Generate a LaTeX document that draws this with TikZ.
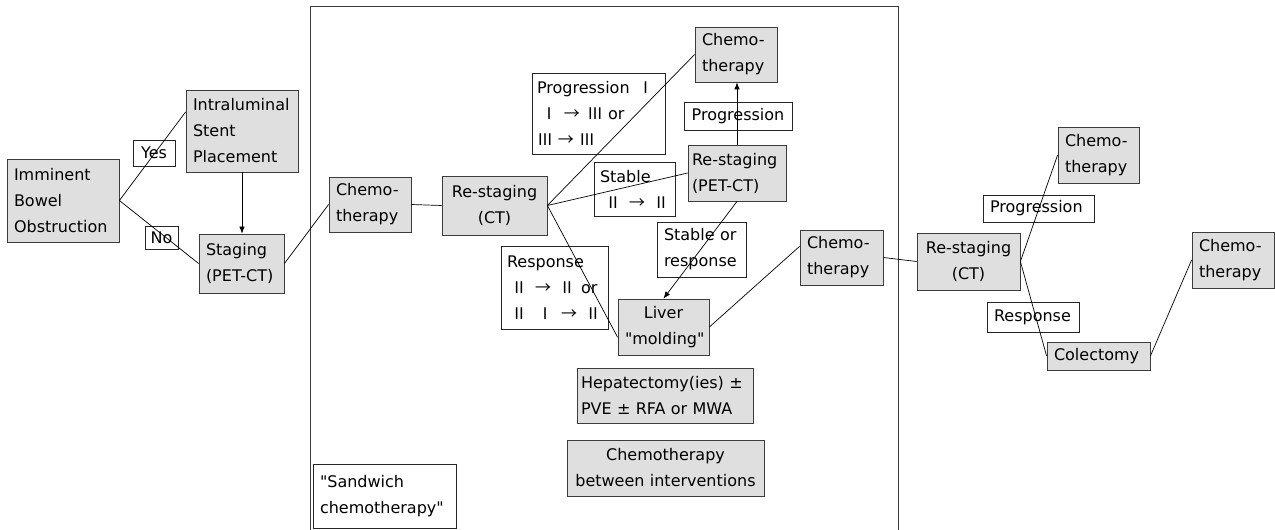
\documentclass[tikz,border=0pt]{standalone}
\usepackage{fontspec}
\setmainfont[Ligatures=TeXOff]{DejaVu Sans}
\newfontfamily\cjk{Noto Sans CJK SC}
\usetikzlibrary{arrows.meta,calc}
\definecolor{boxgray}{RGB}{223,223,223}
\definecolor{edgegray}{RGB}{60,60,60}
\newcommand{\Rn}[1]{{\cjk #1}}
\newcommand{\gapx}[1]{\hspace*{#1pt}}
\begin{document}
\begin{tikzpicture}[x=1pt,y=-1pt,
  every node/.style={font=\fontsize{16}{26}\selectfont},
  gbox/.style 2 args={draw=edgegray, fill=boxgray, line width=0.8pt, inner xsep=7pt, inner ysep=0pt, text width=#1, minimum height=#2},
  lab/.style 2 args={draw=black!85, fill=none, line width=0.8pt, inner xsep=7pt, inner ysep=0pt, text width=#1, minimum height=#2},
  conn/.style={line width=0.7pt, black},
  arr/.style={conn, -{Latex[length=7pt,width=5.5pt]}}]
\useasboundingbox (0,0) rectangle (1275,530);
% sandwich frame
\draw[edgegray, line width=1pt] (310,532) -- (310,6) -- (898,6) -- (898,532);
% grey boxes
\node[gbox={98pt}{83pt}, align=left] (ibo) at (63,200.5) {Imminent\\Bowel\\Obstruction};
\node[gbox={98pt}{82pt}, align=left] (isp) at (242,131) {Intraluminal\\Stent\\Placement};
\node[gbox={71pt}{59pt}, align=left] (stg) at (241.5,263.5) {Staging\\(PET-CT)};
\node[gbox={68pt}{55pt}, align=left] (ch1) at (370,204.5) {Chemo-\\therapy};
\node[gbox={95pt}{59pt}, align=center, inner xsep=5pt] (rs1) at (494.5,205.5) {Re-staging\\(CT)};
\node[gbox={68pt}{55pt}, align=left] (chT) at (736,54.5) {Chemo-\\therapy};
\node[gbox={90pt}{56pt}, align=left, inner xsep=4pt] (rsp) at (737,173) {Re-staging\\(PET-CT)};
\node[gbox={77pt}{56pt}, align=center] (liv) at (663.5,327) {Liver\\"molding"};
\node[gbox={69pt}{55pt}, align=left] (ch2) at (841.5,257.5) {Chemo-\\therapy};
\node[gbox={168pt}{55pt}, align=left, inner xsep=4pt] (hep) at (665,395.5) {Hepatectomy(ies) ±\\PVE ± RFA or MWA};
\node[gbox={189pt}{56pt}, align=center, inner xsep=4pt] (cbi) at (665.5,468) {Chemotherapy\\between interventions};
\node[gbox={93pt}{57pt}, align=center, inner xsep=5pt] (rs2) at (968.5,261.5) {Re-staging\\(CT)};
\node[gbox={67pt}{56pt}, align=left] (ch3) at (1098.5,155) {Chemo-\\therapy};
\node[gbox={89pt}{28pt}, align=left] (col) at (1098.5,356) {Colectomy};
\node[gbox={68pt}{56pt}, align=left] (ch4) at (1233,260) {Chemo-\\therapy};
% white label boxes
\node[lab={32pt}{26pt}, align=center, inner xsep=5pt] (yes) at (154,153) {Yes};
\node[lab={25pt}{23pt}, align=center, inner xsep=4pt] (no) at (161.5,237.5) {No};
\node[lab={123pt}{81pt}, align=left, inner xsep=5pt] (prI) at (598.5,113.5)
  {\mbox{Progression\gapx{8}\Rn{Ⅰ}}\\\mbox{\gapx{4}\Rn{Ⅰ}\gapx{7}\Rn{→}\gapx{7}\Rn{Ⅲ}\gapx{5}or}\\\mbox{\Rn{Ⅲ}\gapx{5}\Rn{→}\gapx{5}\Rn{Ⅲ}}};
\node[lab={96pt}{28pt}, align=center, inner xsep=6pt] (prL) at (738,116) {Progression};
\node[lab={69pt}{54pt}, align=left, inner xsep=6pt] (stb) at (634.5,189)
  {Stable\\\mbox{\gapx{5}\Rn{Ⅱ}\gapx{8}\Rn{→}\gapx{8}\Rn{Ⅱ}}};
\node[lab={75pt}{55pt}, align=left] (sor) at (701.5,249.5) {Stable or\\response};
\node[lab={95pt}{83pt}, align=left, inner xsep=6pt] (rsn) at (554.5,287.5)
  {Response\\\mbox{\gapx{4}\Rn{Ⅱ}\gapx{8}\Rn{→}\gapx{8}\Rn{Ⅱ}\gapx{6}or}\\\mbox{\gapx{4}\Rn{Ⅱ}\gapx{10}\Rn{Ⅰ}\gapx{8}\Rn{→}\gapx{8}\Rn{Ⅱ}}};
\node[lab={129pt}{64pt}, align=left] (snd) at (384.5,496) {"Sandwich\\chemotherapy"};
\node[lab={97pt}{27pt}, align=left] (prR) at (1038.5,208.5) {Progression};
\node[lab={78pt}{30pt}, align=left] (rsR) at (1033,317) {Response};
% connectors
\draw[conn] (ibo.east) -- ($(isp.north west)!0.27!(isp.south west)$);
\draw[conn] (ibo.east) -- (stg.west);
\draw[arr] (isp.south) -- (isp.south |- stg.north);
\draw[conn] (stg.east) -- (ch1.west);
\draw[conn] (ch1.east) -- (rs1.west);
\draw[conn] (rs1.east) -- (chT.west);
\draw[conn] (rs1.east) -- (rsp.west);
\draw[conn] (rs1.east) -- ($(liv.north west)!0.68!(liv.south west)$);
\draw[arr] (rsp.north) -- (rsp.north |- chT.south);
\draw[arr] (rsp.south) -- (liv.north);
\draw[conn] (liv.east) -- ($(ch2.north west)!0.3!(ch2.south west)$);
\draw[conn] (ch2.east) -- (rs2.west);
\draw[conn] (rs2.east) -- (ch3.west);
\draw[conn] (rs2.east) -- (col.west);
\draw[conn] (col.east) -- (ch4.west);
\end{tikzpicture}
\end{document}
